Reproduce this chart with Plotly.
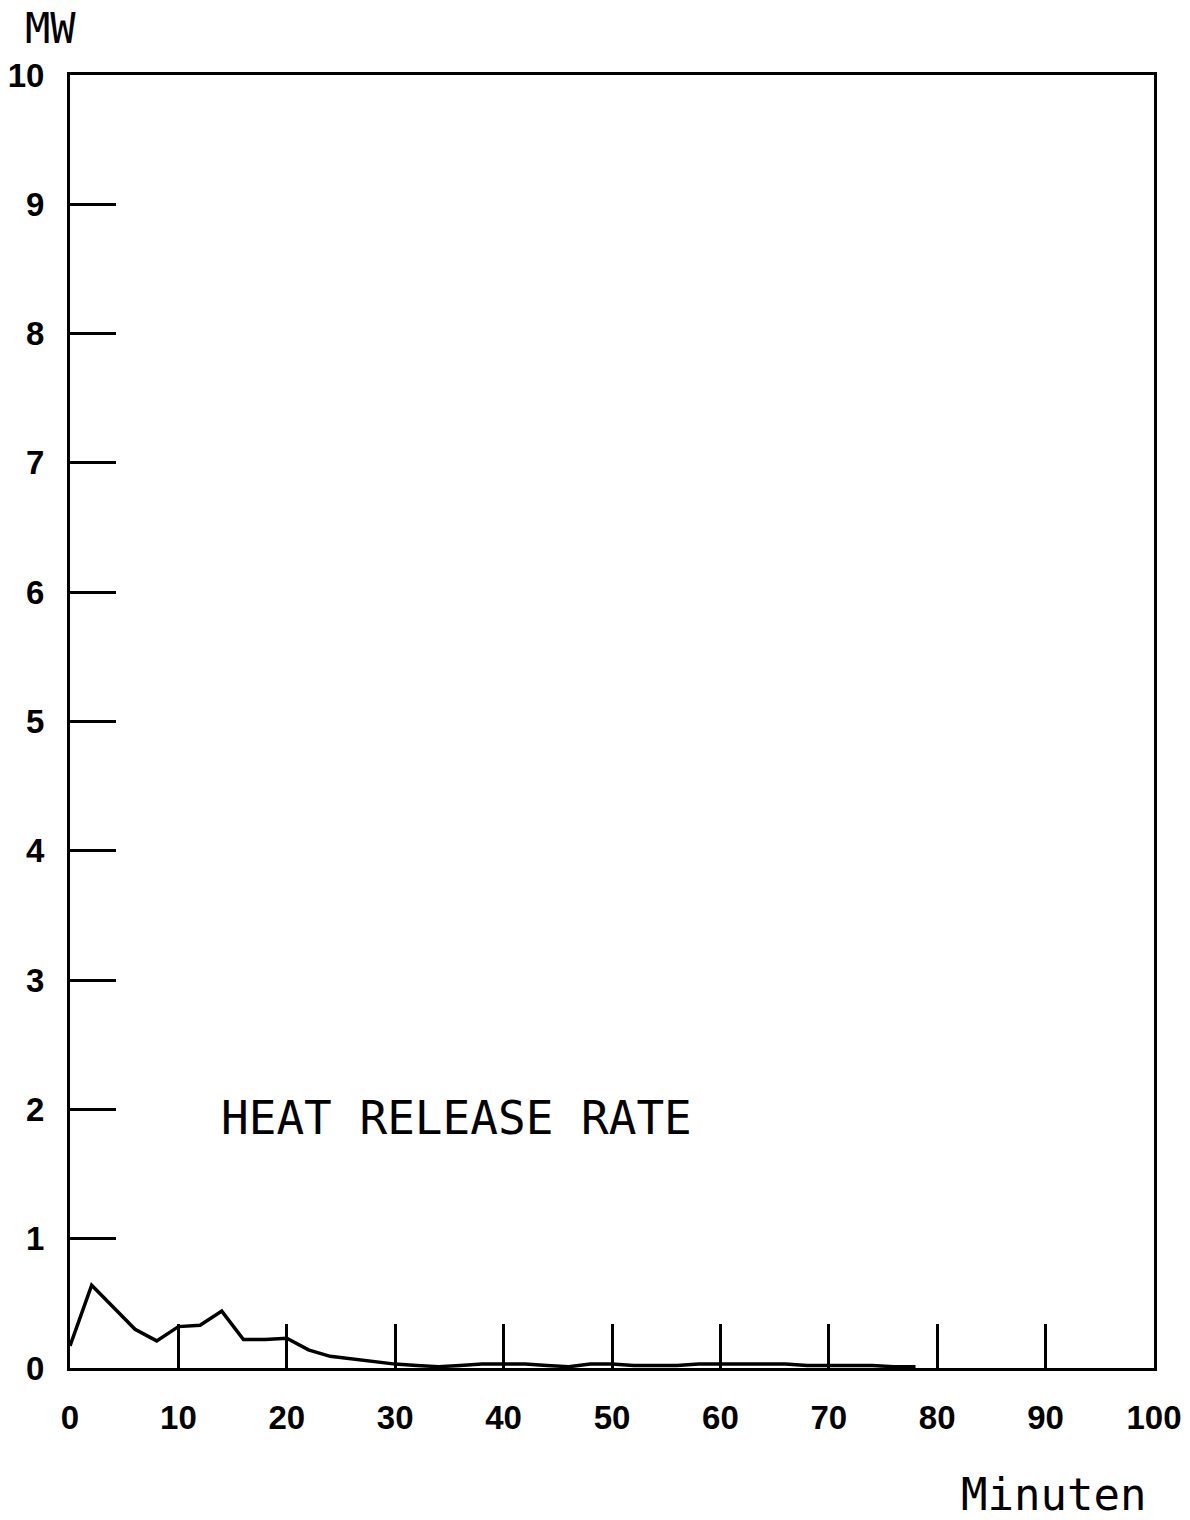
import plotly.graph_objects as go

# Data
minutes = [0, 2, 4, 6, 8, 10, 12, 14, 16, 18, 20, 22, 24, 26, 28, 30, 32, 34, 36, 38,
           40, 42, 44, 46, 48, 50, 52, 54, 56, 58, 60, 62, 64, 66, 68, 70, 72, 74, 76, 78]
heat_release_mw = [0.17, 0.64, 0.47, 0.30, 0.21, 0.32, 0.33, 0.44, 0.22, 0.22, 0.23, 0.14,
                   0.09, 0.07, 0.05, 0.03, 0.02, 0.01, 0.02, 0.03, 0.03, 0.03, 0.02, 0.01,
                   0.03, 0.03, 0.02, 0.02, 0.02, 0.03, 0.03, 0.03, 0.03, 0.03, 0.02, 0.02,
                   0.02, 0.02, 0.01, 0.01]

x_ticks = [0, 10, 20, 30, 40, 50, 60, 70, 80, 90, 100]
y_ticks = [0, 1, 2, 3, 4, 5, 6, 7, 8, 9, 10]

series_label = "HEAT RELEASE RATE"
y_unit = "MW"
x_unit = "Minuten"

W, H = 1190, 1520
L, T = 70, 75
R = W - 1154
B = H - 1368
PW, PH = W - L - R, H - T - B

tick_font = dict(family="Liberation Sans, Arial, sans-serif",
                 size=33, color="black", weight="bold")
mono = "DejaVu Sans Mono, Liberation Mono, monospace"

fig = go.Figure()
fig.add_trace(go.Scatter(x=minutes, y=heat_release_mw, mode="lines",
                         line=dict(color="black", width=3.5), showlegend=False,
                         hoverinfo="x+y"))


def page_to_paper(px, py):
    return (px - L) / PW, (H - B - py) / PH


mw_x, mw_y = page_to_paper(50, 28)
mi_x, mi_y = page_to_paper(1053, 1494)

fig.update_layout(
    width=W, height=H,
    margin=dict(l=L, r=R, t=T, b=B, autoexpand=False),
    paper_bgcolor="white", plot_bgcolor="white",
    xaxis=dict(range=[0, 100], tickvals=x_ticks, ticktext=[str(v) for v in x_ticks],
               showgrid=False, zeroline=False, showline=True, mirror=True,
               linecolor="black", linewidth=3, ticks="inside", ticklen=44,
               tickwidth=3, tickcolor="black", tickfont=tick_font,
               ticklabelstandoff=18, automargin=False),
    yaxis=dict(range=[0, 10], tickvals=y_ticks, ticktext=[str(v) for v in y_ticks],
               showgrid=False, zeroline=False, showline=True, mirror=True,
               linecolor="black", linewidth=3, ticks="inside", ticklen=46,
               tickwidth=3, tickcolor="black", tickfont=tick_font,
               ticklabelstandoff=16, automargin=False),
    annotations=[
        dict(x=35.7, y=1.93, xref="x", yref="y", text=series_label, showarrow=False,
             font=dict(family=mono, size=46, color="black"), xanchor="center", yanchor="middle"),
        dict(x=mw_x, y=mw_y, xref="paper", yref="paper", text=y_unit, showarrow=False,
             font=dict(family=mono, size=42, color="black"), xanchor="center", yanchor="middle"),
        dict(x=mi_x, y=mi_y, xref="paper", yref="paper", text=x_unit, showarrow=False,
             font=dict(family=mono, size=44, color="black"), xanchor="center", yanchor="middle"),
    ],
)

fig.write_html("out.html", config={"displayModeBar": False},
               post_script="document.body.style.margin='0';document.body.style.overflow='hidden';")
